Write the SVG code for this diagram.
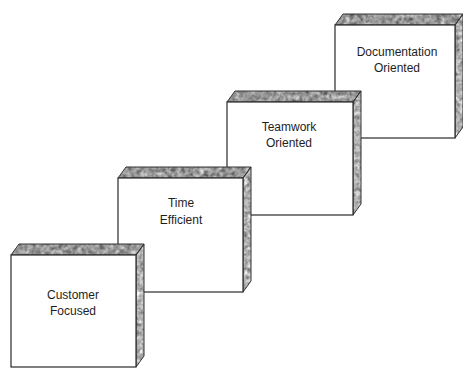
<svg xmlns="http://www.w3.org/2000/svg" width="463" height="369" viewBox="0 0 463 369">
  <defs>
    <!-- mottled grey texture for the top faces of the blocks -->
    <filter id="grain-top" x="-5%" y="-5%" width="110%" height="110%" color-interpolation-filters="sRGB">
      <feTurbulence type="fractalNoise" baseFrequency="0.22" numOctaves="2" seed="7" result="noise"/>
      <feColorMatrix in="noise" type="matrix" values="0.33 0.33 0.33 0 0  0.33 0.33 0.33 0 0  0.33 0.33 0.33 0 0  0 0 0 0 1" result="gray"/>
      <feComponentTransfer in="gray" result="tone">
        <feFuncR type="linear" slope="1.3" intercept="-0.05"/>
        <feFuncG type="linear" slope="1.3" intercept="-0.05"/>
        <feFuncB type="linear" slope="1.3" intercept="-0.05"/>
      </feComponentTransfer>
      <feComposite in="tone" in2="SourceAlpha" operator="in"/>
    </filter>
    <!-- lighter texture for the right-hand faces -->
    <filter id="grain-side" x="-5%" y="-5%" width="110%" height="110%" color-interpolation-filters="sRGB">
      <feTurbulence type="fractalNoise" baseFrequency="0.25" numOctaves="2" seed="11" result="noise"/>
      <feColorMatrix in="noise" type="matrix" values="0.33 0.33 0.33 0 0  0.33 0.33 0.33 0 0  0.33 0.33 0.33 0 0  0 0 0 0 1" result="gray"/>
      <feComponentTransfer in="gray" result="tone">
        <feFuncR type="linear" slope="1.2" intercept="0.1"/>
        <feFuncG type="linear" slope="1.2" intercept="0.1"/>
        <feFuncB type="linear" slope="1.2" intercept="0.1"/>
      </feComponentTransfer>
      <feComposite in="tone" in2="SourceAlpha" operator="in"/>
    </filter>
    <style>
      .front { fill: #ffffff; stroke: #2a2a2a; stroke-width: 1.2; }
      .top { fill: #000; filter: url(#grain-top); }
      .side { fill: #000; filter: url(#grain-side); }
      .edge { fill: none; stroke: #333; stroke-width: 1; stroke-linejoin: round; }
      .label { font-family: "Liberation Sans", Arial, sans-serif; font-size: 12px; fill: #1e1e1e; text-anchor: middle; }
    </style>
  </defs>

  <rect width="463" height="369" fill="#ffffff"/>

  <!-- blocks are drawn back to front so each step sits in front of the next -->
  <g id="documentation-oriented">
    <polygon class="top" points="335,25 343,14 463,14 455,25"/>
    <polygon class="side" points="455,25 463,14 463,127 455,138"/>
    <polygon class="edge" points="335,25 343,14 463,14 455,25"/>
    <polygon class="edge" points="455,25 463,14 463,127 455,138"/>
    <rect class="front" x="335" y="25" width="120" height="113"/>
    <text class="label" x="397" y="56">Documentation</text>
    <text class="label" x="397" y="72">Oriented</text>
  </g>

  <g id="teamwork-oriented">
    <polygon class="top" points="227,102 235,91 361,91 353,102"/>
    <polygon class="side" points="353,102 361,91 361,204 353,215"/>
    <polygon class="edge" points="227,102 235,91 361,91 353,102"/>
    <polygon class="edge" points="353,102 361,91 361,204 353,215"/>
    <rect class="front" x="227" y="102" width="126" height="113"/>
    <text class="label" x="289" y="131">Teamwork</text>
    <text class="label" x="289" y="147">Oriented</text>
  </g>

  <g id="time-efficient">
    <polygon class="top" points="118,178 126,167 251,167 243,178"/>
    <polygon class="side" points="243,178 251,167 251,281 243,292"/>
    <polygon class="edge" points="118,178 126,167 251,167 243,178"/>
    <polygon class="edge" points="243,178 251,167 251,281 243,292"/>
    <rect class="front" x="118" y="178" width="125" height="114"/>
    <text class="label" x="181" y="207">Time</text>
    <text class="label" x="181" y="224">Efficient</text>
  </g>

  <g id="customer-focused">
    <polygon class="top" points="11,255 19,244 144,244 136,255"/>
    <polygon class="side" points="136,255 144,244 144,356 136,367"/>
    <polygon class="edge" points="11,255 19,244 144,244 136,255"/>
    <polygon class="edge" points="136,255 144,244 144,356 136,367"/>
    <rect class="front" x="11" y="255" width="125" height="112"/>
    <text class="label" x="73" y="299">Customer</text>
    <text class="label" x="73" y="315">Focused</text>
  </g>
</svg>
